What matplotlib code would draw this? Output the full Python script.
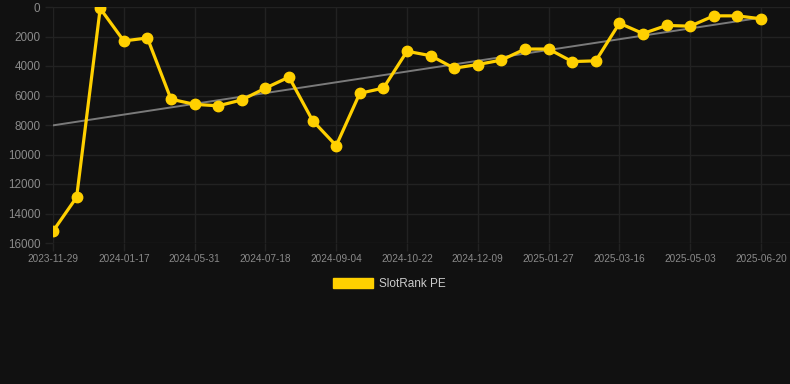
import matplotlib
matplotlib.use("Agg")
import matplotlib.pyplot as plt
import numpy as np
from matplotlib.patches import Patch

plt.rcParams["font.family"] = ["Liberation Sans", "DejaVu Sans"]

dates = ["2023-11-29", "", "", "2024-01-17", "", "", "2024-05-31", "", "", "2024-07-18",
         "", "", "2024-09-04", "", "", "2024-10-22", "", "", "2024-12-09", "", "",
         "2025-01-27", "", "", "2025-03-16", "", "", "2025-05-03", "", "", "2025-06-20"]
values = [15200, 12900, 100, 2300, 2100, 6250, 6600, 6700, 6300, 5500,
          4750, 7700, 9400, 5850, 5500, 3000, 3300, 4150, 3900, 3600,
          2850, 2850, 3700, 3650, 1100, 1800, 1250, 1300, 600, 600, 800]
yticks = [0, 2000, 4000, 6000, 8000, 10000, 12000, 14000, 16000]
series_name = "SlotRank PE"

BG = "#111111"
GRID = "#222222"
YELLOW = "#FFD000"
TICK = "#8a8a8a"

W, H = 790, 384
fig = plt.figure(figsize=(W / 100, H / 100), dpi=100, facecolor=BG)
left, right, top, bottom = 53, 790, 7, 243
ax = fig.add_axes([left / W, 1 - bottom / H, (right - left) / W, (bottom - top) / H])
ax.set_facecolor(BG)

x = np.arange(len(values))
y = np.array(values, dtype=float)

# trend line (linear regression)
coef = np.polyfit(x, y, 1)
ax.plot([x[0], x[-1]], np.polyval(coef, [x[0], x[-1]]), color="#7a7a7a", lw=1.4, zorder=2)

ax.plot(x, y, color=YELLOW, lw=2.3, marker="o", ms=7.5, mfc=YELLOW, mec=YELLOW, zorder=3,
        solid_joinstyle="round")

px_per = (761 - 53) / 30
ax.set_xlim(0, (right - left) / px_per)
ax.set_ylim(16000, 0)

tick_idx = [i for i, d in enumerate(dates) if d]
ax.set_xticks(tick_idx)
ax.set_xticklabels([dates[i] for i in tick_idx])
ax.set_yticks(yticks)
ax.set_yticklabels([str(v) for v in yticks])

ax.grid(True, color=GRID, lw=1.0)
for s in ax.spines.values():
    s.set_visible(False)
ax.tick_params(axis="both", colors=GRID, length=6, width=1.0, pad=2)
for lab in ax.get_xticklabels():
    lab.set_color(TICK)
    lab.set_fontsize(7.2)
for lab in ax.get_yticklabels():
    lab.set_color(TICK)
    lab.set_fontsize(8.4)
ax.tick_params(axis="y", pad=3)

handle = Patch(facecolor=YELLOW, edgecolor=YELLOW)
leg = fig.legend([handle], [series_name], loc="center",
                 bbox_to_anchor=(0.5 - 6 / W, 1 - 284 / H),
                 frameon=False, fontsize=8.5, handlelength=3.4, handleheight=0.9,
                 handletextpad=0.5, labelcolor="#cccccc")

fig.savefig("out.png", dpi=100, facecolor=BG)
